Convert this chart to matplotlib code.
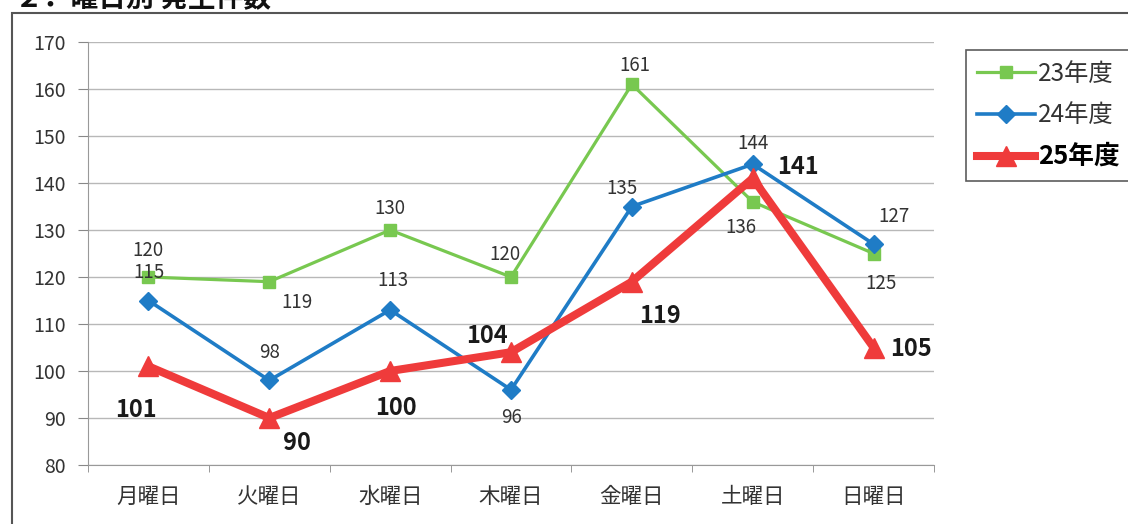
import matplotlib
matplotlib.use('Agg')
import matplotlib.pyplot as plt
from matplotlib.patches import Rectangle

plt.rcParams['font.family'] = ['Noto Sans CJK JP', 'DejaVu Sans']

days = ['月曜日', '火曜日', '水曜日', '木曜日', '金曜日', '土曜日', '日曜日']
y23 = [120, 119, 130, 120, 161, 136, 125]
y24 = [115, 98, 113, 96, 135, 144, 127]
y25 = [101, 90, 100, 104, 119, 141, 105]
series_names = ['23年度', '24年度', '25年度']
title = '２．曜日別 発生件数'

# label offsets in pixels (dx, dy)
off23 = [(0, 27), (28, -21), (0, 22), (-6, 22), (3, 19), (-12, -26), (7, -30)]
off24 = [(1, 28), (0, 28), (3, 29), (0, -28), (-10, 18), (0, 21), (20, 28)]
off25 = [(-12, -44), (28, -25), (6, -37), (-24, 16), (28, -34), (45, 11), (37, -2)]

W, H = 1128, 524
fig = plt.figure(figsize=(W / 100, H / 100), dpi=100)
fig.patch.set_facecolor('white')

# outer chart frame (cropped at right/bottom)
fig.patches.append(Rectangle((12 / W, -0.05), 1.2, 1 - 13 / H + 0.05,
                             transform=fig.transFigure, fill=False,
                             edgecolor='#555555', linewidth=1.5))
fig.text(15 / W, 1 - 7 / H, title, fontsize=20, fontweight='bold',
         va='baseline', ha='left', color='#111111')

ax = fig.add_axes([88 / W, 1 - 465 / H, 846 / W, 423 / H])
x = list(range(len(days)))

ax.plot(x, y23, color='#78c850', lw=2.3, marker='s', ms=8.5, label=series_names[0], zorder=3)
ax.plot(x, y24, color='#1f7cc6', lw=2.6, marker='D', ms=9, label=series_names[1], zorder=4)
ax.plot(x, y25, color='#ef3b3b', lw=5.8, marker='^', ms=14, label=series_names[2], zorder=5)

for xs, ys, offs in ((x, y23, off23), (x, y24, off24)):
    for xi, yi, (dx, dy) in zip(xs, ys, offs):
        ax.annotate(str(yi), (xi, yi), xytext=(dx, dy), textcoords='offset pixels',
                    ha='center', va='center', fontsize=13.5, color='#333333', zorder=6)
for xi, yi, (dx, dy) in zip(x, y25, off25):
    ax.annotate(str(yi), (xi, yi), xytext=(dx, dy), textcoords='offset pixels',
                ha='center', va='center', fontsize=17, fontweight='bold',
                color='#1a1a1a', zorder=6)

ax.set_xlim(-0.5, len(days) - 0.5)
ax.set_ylim(80, 170)
ax.set_yticks(range(80, 171, 10))
ax.set_xticks(x)
ax.set_xticklabels(days)
ax.set_xticks([i - 0.5 for i in range(len(days) + 1)], minor=True)
ax.tick_params(axis='x', which='major', length=0, pad=15, labelsize=15.5, labelcolor='#333333')
ax.tick_params(axis='x', which='minor', length=5, color='#888888')
ax.tick_params(axis='y', length=7, pad=9, labelsize=14, labelcolor='#333333', color='#888888')
ax.grid(axis='y', color='#b8b8b8', lw=1)
ax.set_axisbelow(True)
for s in ('top', 'right'):
    ax.spines[s].set_visible(False)
ax.spines['left'].set_color('#999999')
ax.spines['bottom'].set_color('#999999')

leg = fig.legend(loc='upper left', bbox_to_anchor=(966 / W, 1 - 50 / H),
                 fontsize=17.5, handlelength=2.4, handletextpad=0.1,
                 labelspacing=0.62, borderpad=0.45, borderaxespad=0,
                 frameon=True, fancybox=False)
leg.get_frame().set_edgecolor('#333333')
leg.get_frame().set_linewidth(1.2)
texts = leg.get_texts()
for t in texts[:2]:
    t.set_color('#333333')
texts[2].set_fontweight('bold')
texts[2].set_fontsize(18.5)

fig.savefig('out.png', dpi=100)
